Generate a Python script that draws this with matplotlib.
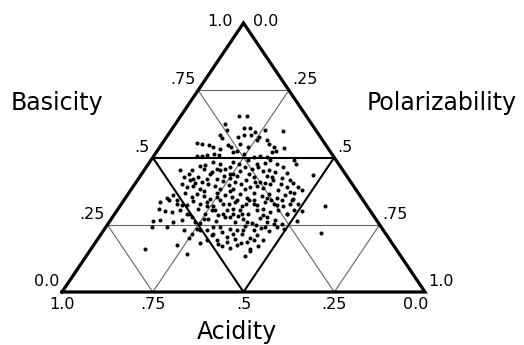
import numpy as np
import matplotlib
matplotlib.use("Agg")
import matplotlib.pyplot as plt
from matplotlib.transforms import offset_copy

# composicion ternaria de cada muestra (acidez = 1 - basicidad - polarizabilidad)
basicidad = [
    0.654, 0.654, 0.626, 0.601, 0.610, 0.610, 0.603, 0.599, 0.595, 0.582,
    0.574, 0.576, 0.582, 0.582, 0.576, 0.566, 0.564, 0.554, 0.549, 0.548,
    0.539, 0.545, 0.539, 0.549, 0.539, 0.549, 0.539, 0.537, 0.533, 0.504,
    0.507, 0.508, 0.514, 0.508, 0.520, 0.524, 0.502, 0.507, 0.502, 0.519,
    0.524, 0.514, 0.492, 0.467, 0.471, 0.477, 0.483, 0.475, 0.489, 0.477,
    0.480, 0.489, 0.475, 0.465, 0.477, 0.483, 0.465, 0.455, 0.452, 0.458,
    0.446, 0.452, 0.440, 0.450, 0.458, 0.450, 0.452, 0.446, 0.442, 0.434,
    0.458, 0.428, 0.415, 0.428, 0.409, 0.421, 0.413, 0.425, 0.430, 0.415,
    0.428, 0.409, 0.430, 0.415, 0.425, 0.415, 0.405, 0.400, 0.390, 0.393,
    0.384, 0.403, 0.393, 0.383, 0.397, 0.384, 0.400, 0.390, 0.395, 0.388,
    0.400, 0.380, 0.390, 0.390, 0.351, 0.359, 0.368, 0.353, 0.366, 0.356,
    0.347, 0.368, 0.359, 0.353, 0.366, 0.351, 0.368, 0.356, 0.366, 0.351,
    0.359, 0.368, 0.378, 0.335, 0.341, 0.328, 0.322, 0.338, 0.326, 0.335,
    0.318, 0.341, 0.326, 0.335, 0.318, 0.341, 0.322, 0.335, 0.326, 0.318,
    0.341, 0.328, 0.310, 0.301, 0.297, 0.306, 0.291, 0.310, 0.291, 0.304,
    0.285, 0.306, 0.291, 0.304, 0.291, 0.306, 0.285, 0.297, 0.304, 0.289,
    0.306, 0.301, 0.318, 0.264, 0.269, 0.260, 0.266, 0.279, 0.257, 0.273,
    0.264, 0.279, 0.260, 0.273, 0.257, 0.276, 0.260, 0.269, 0.254, 0.264,
    0.242, 0.242, 0.232, 0.235, 0.229, 0.242, 0.223, 0.235, 0.229, 0.244,
    0.232, 0.239, 0.227, 0.242, 0.235, 0.219, 0.202, 0.211, 0.195, 0.204,
    0.198, 0.217, 0.202, 0.211, 0.195, 0.173, 0.182, 0.180, 0.170, 0.165,
    0.182, 0.161, 0.170, 0.161, 0.140, 0.152, 0.133,
    0.440, 0.405, 0.440, 0.430, 0.409, 0.384, 0.409, 0.405, 0.403, 0.375,
    0.353, 0.375, 0.343, 0.328, 0.343, 0.310, 0.343, 0.341, 0.326, 0.318,
    0.326, 0.279, 0.281, 0.260, 0.248, 0.242, 0.252, 0.217, 0.242, 0.217,
    0.232, 0.260, 0.291, 0.341, 0.322, 0.372, 0.347, 0.440, 0.440, 0.465,
    0.428, 0.465, 0.458, 0.421, 0.421, 0.351, 0.328, 0.291, 0.310, 0.291,
    0.304, 0.273, 0.279, 0.322, 0.291, 0.229, 0.217, 0.192, 0.186, 0.173,
    0.186, 0.192,
]
polarizabilidad = [
    0.161, 0.182, 0.137, 0.155, 0.195, 0.212, 0.258, 0.308, 0.234, 0.145,
    0.154, 0.198, 0.209, 0.229, 0.256, 0.281, 0.255, 0.095, 0.110, 0.132,
    0.146, 0.184, 0.196, 0.216, 0.244, 0.297, 0.314, 0.343, 0.169, 0.121,
    0.132, 0.145, 0.163, 0.178, 0.212, 0.221, 0.278, 0.292, 0.313, 0.318,
    0.328, 0.245, 0.392, 0.147, 0.158, 0.197, 0.230, 0.251, 0.269, 0.298,
    0.320, 0.328, 0.354, 0.377, 0.405, 0.175, 0.272, 0.098, 0.132, 0.161,
    0.190, 0.210, 0.243, 0.266, 0.294, 0.330, 0.343, 0.364, 0.398, 0.474,
    0.221, 0.121, 0.145, 0.162, 0.180, 0.216, 0.236, 0.250, 0.267, 0.299,
    0.314, 0.341, 0.349, 0.375, 0.393, 0.420, 0.435, 0.130, 0.149, 0.165,
    0.189, 0.202, 0.225, 0.244, 0.262, 0.280, 0.293, 0.323, 0.339, 0.361,
    0.373, 0.406, 0.424, 0.456, 0.113, 0.127, 0.155, 0.181, 0.189, 0.212,
    0.234, 0.243, 0.270, 0.291, 0.308, 0.333, 0.344, 0.372, 0.386, 0.416,
    0.435, 0.454, 0.472, 0.103, 0.123, 0.153, 0.183, 0.193, 0.218, 0.231,
    0.258, 0.265, 0.296, 0.309, 0.336, 0.346, 0.376, 0.392, 0.420, 0.451,
    0.462, 0.485, 0.111, 0.133, 0.154, 0.173, 0.203, 0.221, 0.248, 0.261,
    0.288, 0.301, 0.326, 0.339, 0.368, 0.384, 0.412, 0.424, 0.444, 0.474,
    0.485, 0.512, 0.566, 0.118, 0.136, 0.177, 0.197, 0.218, 0.252, 0.267,
    0.293, 0.310, 0.347, 0.363, 0.394, 0.408, 0.434, 0.452, 0.479, 0.515,
    0.127, 0.168, 0.219, 0.254, 0.284, 0.296, 0.328, 0.345, 0.368, 0.383,
    0.412, 0.430, 0.458, 0.471, 0.494, 0.603, 0.250, 0.307, 0.329, 0.352,
    0.378, 0.386, 0.416, 0.431, 0.457, 0.230, 0.290, 0.341, 0.356, 0.380,
    0.402, 0.437, 0.456, 0.148, 0.274, 0.442, 0.439,
    0.129, 0.164, 0.188, 0.232, 0.272, 0.313, 0.327, 0.357, 0.401, 0.204,
    0.251, 0.275, 0.311, 0.343, 0.357, 0.398, 0.403, 0.435, 0.464, 0.240,
    0.280, 0.323, 0.345, 0.381, 0.411, 0.439, 0.458, 0.308, 0.315, 0.363,
    0.382, 0.237, 0.198, 0.146, 0.169, 0.442, 0.464, 0.252, 0.294, 0.308,
    0.364, 0.230, 0.198, 0.188, 0.151, 0.388, 0.364, 0.349, 0.317, 0.299,
    0.270, 0.255, 0.424, 0.431, 0.473, 0.266, 0.249, 0.303, 0.361, 0.395,
    0.416, 0.432,
]

divisiones = [0.25, 0.5, 0.75]
etiquetas_b = ["0.0", ".25", ".5", ".75", "1.0"]
etiquetas_p = ["0.0", ".25", ".5", ".75", "1.0"]
etiquetas_a = ["1.0", ".75", ".5", ".25", "0.0"]

basicidad = np.array(basicidad)
polarizabilidad = np.array(polarizabilidad)
acidez = 1 - basicidad - polarizabilidad


def a_xy(a, b, p):
    # vertice de basicidad arriba, acidez abajo a la izquierda, polarizabilidad abajo a la derecha
    return p + b / 2.0, b


fig = plt.figure(figsize=(5.24, 3.45), dpi=100)
ax = fig.add_axes([62 / 524, 53 / 345, 363 / 524, 269 / 345])
ax.set_xlim(0, 1)
ax.set_ylim(0, 1)
ax.axis("off")

# rejilla: lineas de 0.25 y 0.75 finas, las de 0.5 gruesas
for k in divisiones:
    if k == 0.5:
        estilo = dict(color="black", lw=1.5)
    else:
        estilo = dict(color="#666666", lw=0.8)
    for ini, fin in [((1 - k, k, 0), (0, k, 1 - k)),
                     ((1 - k, 0, k), (0, 1 - k, k)),
                     ((k, 0, 1 - k), (k, 1 - k, 0))]:
        x0, y0 = a_xy(*ini)
        x1, y1 = a_xy(*fin)
        ax.plot([x0, x1], [y0, y1], **estilo, solid_capstyle="butt", zorder=1)

x, y = a_xy(acidez, basicidad, polarizabilidad)
ax.plot(x, y, "o", color="black", ms=2.9, mew=0, zorder=3)

# borde del triangulo
vx = [0, 1, 0.5, 0]
vy = [0, 0, 1, 0]
ax.plot(vx, vy, color="black", lw=2.3, solid_joinstyle="miter", clip_on=False, zorder=4)

tam = 11.5
off = ax.transData

for i, t in enumerate(etiquetas_b):
    k = i / 4
    xx, yy = a_xy(1 - k, k, 0)
    if i == 4:
        tr = offset_copy(off, fig=fig, x=-11, y=2, units="dots")
        ax.text(xx, yy, t, ha="right", va="center", fontsize=tam, transform=tr)
    else:
        tr = offset_copy(off, fig=fig, x=-3, y=3, units="dots")
        ax.text(xx, yy, t, ha="right", va="bottom", fontsize=tam, transform=tr)

for i, t in enumerate(etiquetas_p):
    k = i / 4
    xx, yy = a_xy(0, 1 - k, k)
    if i == 0:
        tr = offset_copy(off, fig=fig, x=10, y=2, units="dots")
        ax.text(xx, yy, t, ha="left", va="center", fontsize=tam, transform=tr)
    else:
        tr = offset_copy(off, fig=fig, x=3, y=3, units="dots")
        ax.text(xx, yy, t, ha="left", va="bottom", fontsize=tam, transform=tr)

for i, t in enumerate(etiquetas_a):
    k = i / 4
    xx, yy = a_xy(1 - k, 0, k)
    ha = "center"
    dx = 0
    if i == 4:
        ha = "right"
        dx = 3
    tr = offset_copy(off, fig=fig, x=dx, y=-5, units="dots")
    ax.text(xx, yy, t, ha=ha, va="top", fontsize=tam, transform=tr)

fig.text(57 / 524, 1 - 103 / 345, "Basicity", ha="center", va="center", fontsize=17)
fig.text(442 / 524, 1 - 103 / 345, "Polarizability", ha="center", va="center", fontsize=17)
fig.text(237 / 524, 1 - 332 / 345, "Acidity", ha="center", va="center", fontsize=17)

fig.savefig("out.png", dpi=100)
